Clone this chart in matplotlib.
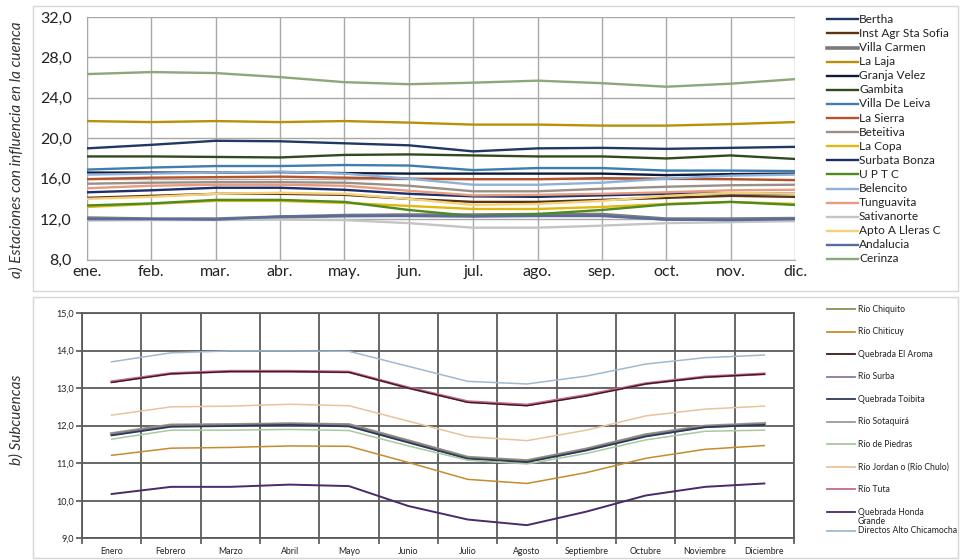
import matplotlib
matplotlib.use("Agg")
import matplotlib.pyplot as plt
from matplotlib.lines import Line2D
from matplotlib.patches import Rectangle

# ---------------- data ----------------
months_top = ["ene.", "feb.", "mar.", "abr.", "may.", "jun.", "jul.", "ago.", "sep.", "oct.", "nov.", "dic."]
months_bot = ["Enero", "Febrero", "Marzo", "Abril", "Mayo", "Junio", "Julio", "Agosto",
              "Septiembre", "Octubre", "Noviembre", "Diciembre"]

bertha = [19.0, 19.35, 19.75, 19.7, 19.5, 19.3, 18.7, 19.0, 19.05, 18.95, 19.05, 19.15]
inst_agr = [14.1, 14.3, 14.5, 14.5, 14.4, 14.0, 13.7, 13.7, 13.9, 14.1, 14.3, 14.2]
villa_carmen = [12.1, 12.0, 12.0, 12.2, 12.35, 12.4, 12.4, 12.45, 12.45, 12.0, 12.0, 12.05]
la_laja = [21.7, 21.6, 21.7, 21.6, 21.7, 21.55, 21.35, 21.35, 21.25, 21.25, 21.4, 21.6]
granja_velez = [16.6, 16.6, 16.6, 16.65, 16.55, 16.5, 16.5, 16.5, 16.5, 16.35, 16.45, 16.5]
gambita = [18.2, 18.2, 18.15, 18.1, 18.35, 18.4, 18.3, 18.2, 18.2, 18.0, 18.3, 17.95]
villa_leiva = [16.9, 17.1, 17.25, 17.25, 17.35, 17.3, 16.85, 17.05, 17.05, 16.8, 16.8, 16.75]
la_sierra = [15.95, 16.1, 16.15, 16.2, 16.1, 16.0, 15.95, 15.95, 16.05, 16.0, 15.95, 15.85]
beteitiva = [15.5, 15.6, 15.65, 15.65, 15.6, 15.3, 14.75, 14.75, 15.0, 15.2, 15.35, 15.4]
la_copa = [13.2, 13.5, 13.8, 13.8, 13.6, 13.3, 13.0, 13.0, 13.2, 13.5, 13.7, 13.5]
surbata = [14.65, 14.85, 15.1, 15.1, 14.9, 14.5, 14.25, 14.2, 14.35, 14.5, 14.55, 14.5]
uptc = [13.35, 13.55, 13.9, 13.9, 13.7, 12.9, 12.3, 12.5, 12.9, 13.45, 13.7, 13.4]
belencito = [16.4, 16.5, 16.6, 16.7, 16.5, 16.0, 15.4, 15.4, 15.6, 16.0, 16.3, 16.4]
tunguavita = [15.05, 15.3, 15.4, 15.4, 15.3, 14.8, 14.35, 14.4, 14.5, 14.65, 14.85, 14.9]
sativanorte = [11.85, 11.9, 11.9, 11.95, 11.9, 11.6, 11.15, 11.15, 11.35, 11.6, 11.7, 11.8]
apto = [14.0, 14.2, 14.5, 14.6, 14.5, 14.0, 13.4, 13.5, 13.8, 14.3, 14.6, 14.5]
andalucia = [12.0, 12.0, 11.95, 12.25, 12.3, 12.3, 12.25, 12.3, 12.3, 11.95, 11.9, 12.0]
cerinza = [26.35, 26.55, 26.45, 26.05, 25.55, 25.35, 25.5, 25.7, 25.45, 25.1, 25.4, 25.85]

top_names = ["Bertha", "Inst Agr Sta Sofia", "Villa Carmen", "La Laja", "Granja Velez", "Gambita",
             "Villa De Leiva", "La Sierra", "Beteitiva", "La Copa", "Surbata Bonza", "U P T C",
             "Belencito", "Tunguavita", "Sativanorte", "Apto A Lleras C", "Andalucia", "Cerinza"]
top_series = [bertha, inst_agr, villa_carmen, la_laja, granja_velez, gambita, villa_leiva, la_sierra,
              beteitiva, la_copa, surbata, uptc, belencito, tunguavita, sativanorte, apto, andalucia, cerinza]
top_colors = ["#1f3864", "#5c3310", "#7a7a7a", "#b8900a", "#0d1a3a", "#2f4a1e", "#3f7cb0", "#b5532a",
              "#9a8f86", "#e0b810", "#1c2f6b", "#4e8a1e", "#8fb0d8", "#e69c80", "#c4c4c4", "#f5d27a",
              "#5a6a9a", "#8aa878"]

chiquito = [11.79, 12.02, 12.03, 12.06, 12.03, 11.60, 11.16, 11.07, 11.38, 11.76, 11.99, 12.05]
chiticuy = [11.21, 11.40, 11.42, 11.46, 11.45, 11.02, 10.57, 10.46, 10.75, 11.13, 11.37, 11.47]
aroma = [13.15, 13.38, 13.44, 13.44, 13.42, 13.00, 12.62, 12.53, 12.79, 13.11, 13.29, 13.37]
surba = [11.77, 12.00, 12.01, 12.05, 12.01, 11.58, 11.14, 11.05, 11.36, 11.74, 11.98, 12.04]
toibita = [11.74, 11.97, 11.99, 12.02, 11.98, 11.55, 11.12, 11.03, 11.34, 11.71, 11.96, 12.02]
sotaquira = [11.78, 12.01, 12.02, 12.04, 12.02, 11.59, 11.15, 11.06, 11.37, 11.75, 11.98, 12.05]
piedras = [11.64, 11.88, 11.88, 11.90, 11.87, 11.46, 11.08, 10.98, 11.26, 11.62, 11.85, 11.88]
jordan = [12.28, 12.50, 12.52, 12.57, 12.53, 12.12, 11.71, 11.60, 11.88, 12.26, 12.44, 12.52]
tuta = [13.17, 13.39, 13.45, 13.45, 13.43, 13.01, 12.64, 12.55, 12.81, 13.12, 13.30, 13.38]
honda = [10.18, 10.37, 10.37, 10.43, 10.39, 9.86, 9.50, 9.35, 9.71, 10.14, 10.37, 10.46]
directos = [13.70, 13.94, 13.99, 13.99, 13.98, 13.58, 13.18, 13.11, 13.32, 13.64, 13.81, 13.88]

bot_names = ["Río Chiquito", "Río Chiticuy", "Quebrada El Aroma", "Río Surba", "Quebrada Toibita",
             "Río Sotaquirá", "Río de Piedras", "Río Jordan o (Río Chulo)", "Río Tuta",
             "Quebrada Honda\nGrande", "Directos Alto Chicamocha"]
bot_series = [chiquito, chiticuy, aroma, surba, toibita, sotaquira, piedras, jordan, tuta, honda, directos]
bot_colors = ["#8c8c5a", "#c88a2e", "#3a1a1a", "#8a7a9a", "#2c3a5a", "#9a9a9a", "#a8c8a0",
              "#e8c49a", "#c86890", "#4a2a6a", "#a0b8d0"]

# ---------------- figure ----------------
W, H = 961, 560
fig = plt.figure(figsize=(W / 100, H / 100), dpi=100)
FONT = ["Lato", "DejaVu Sans"]


def fx(px):
    return px / W


def fy(py):
    return 1 - py / H


# panel frames
fig.add_artist(Rectangle((fx(33), fy(291)), fx(958) - fx(33), fy(6) - fy(291), transform=fig.transFigure,
                         fill=False, edgecolor="#d6d6d6", lw=1.0))
fig.add_artist(Rectangle((fx(33), fy(558)), fx(958) - fx(33), fy(297) - fy(558), transform=fig.transFigure,
                         fill=False, edgecolor="#d6d6d6", lw=1.0))

# ---------------- top axes ----------------
ax1 = fig.add_axes([fx(87), fy(259.5), fx(795) - fx(87), fy(17) - fy(259.5)])
x = list(range(12))
for i in range(len(top_series)):
    lw = 2.6 if top_names[i] == "Villa Carmen" else 1.7
    ax1.plot(x, top_series[i], color=top_colors[i], lw=lw, solid_joinstyle="round", zorder=3)
ax1.set_xlim(0, 11)
ax1.set_ylim(8, 32)
ax1.set_yticks([8, 12, 16, 20, 24, 28, 32])
ax1.set_yticklabels([f"{v:.1f}".replace(".", ",") for v in [8, 12, 16, 20, 24, 28, 32]],
                    fontsize=11.5, family=FONT, color="#222222")
ax1.set_xticks(x)
ax1.set_xticklabels(months_top, fontsize=11.5, family=FONT, color="#222222")
ax1.grid(True, color="#a8a8a8", lw=1.0)
ax1.set_axisbelow(True)
for s in ["top", "right"]:
    ax1.spines[s].set_visible(False)
for s in ["left", "bottom"]:
    ax1.spines[s].set_color("#a8a8a8")
ax1.tick_params(axis="y", length=0, pad=11)
ax1.tick_params(axis="x", length=0, pad=4)

fig.text(fx(17), fy(150), "a) Estaciones con influencia en la cuenca", rotation=90, va="center",
         ha="center", fontsize=11, style="italic", family=FONT, color="#333333")

# top legend (manual)
for i, name in enumerate(top_names):
    yy = fy(19.3 + i * 14.1)
    lw = 2.6 if name == "Villa Carmen" else 1.7
    fig.add_artist(Line2D([fx(827), fx(858)], [yy, yy], color=top_colors[i], lw=lw,
                          transform=fig.transFigure))
    fig.text(fx(859), yy, name, va="center", ha="left", fontsize=8.6, family=FONT, color="#222222")

# ---------------- bottom axes ----------------
ax2 = fig.add_axes([fx(82), fy(538.3), fx(794) - fx(82), fy(313) - fy(538.3)])
lw_bot = {"Río Sotaquirá": 2.6, "Quebrada Toibita": 1.3, "Río Tuta": 2.0, "Quebrada El Aroma": 1.0,
          "Quebrada Honda\nGrande": 1.4}
for i in [5, 0, 3, 4, 6, 1, 7, 8, 2, 9, 10]:
    ax2.plot(x, bot_series[i], color=bot_colors[i], lw=lw_bot.get(bot_names[i], 1.1), zorder=3)
ax2.set_xlim(-0.5, 11.5)
ax2.set_ylim(9, 15)
yt = [9, 10, 11, 12, 13, 14, 15]
ax2.set_yticks(yt)
ax2.set_yticklabels([f"{v:.1f}".replace(".", ",") for v in yt], fontsize=6.5, family=FONT,
                    color="#222222")
ax2.set_xticks(x)
ax2.set_xticklabels(months_bot, fontsize=6.3, family=FONT, color="#222222")
ax2.set_xticks([v + 0.5 for v in range(-1, 12)], minor=True)
ax2.tick_params(axis="x", which="major", length=0, pad=6)
ax2.tick_params(axis="x", which="minor", length=4, color="#555555", width=1.2)
ax2.tick_params(axis="y", length=4, color="#555555", width=1.2, pad=2)
ax2.grid(True, axis="y", color="#5a5a5a", lw=1.3)
ax2.grid(True, axis="x", which="minor", color="#5a5a5a", lw=1.3)
ax2.set_axisbelow(True)
for s in ax2.spines.values():
    s.set_color("#5a5a5a")
    s.set_linewidth(1.3)

fig.text(fx(17), fy(420), "b) Subcuencas", rotation=90, va="center", ha="center",
         fontsize=11, style="italic", family=FONT, color="#333333")

# bottom legend (manual)
leg_y = [309, 331.7, 354.3, 376.7, 399.3, 421.7, 444.3, 467, 489.3, 512.3, 530.5]
for i, name in enumerate(bot_names):
    yy = fy(leg_y[i])
    fig.add_artist(Line2D([fx(827), fx(855)], [yy, yy], color=bot_colors[i],
                          lw=1.3, transform=fig.transFigure))
    if "\n" in name:
        fig.text(fx(858), fy(leg_y[i] - 4.5), name, va="top", ha="left", fontsize=6.2, family=FONT,
                 color="#222222", linespacing=1.0)
    else:
        fig.text(fx(858), yy, name, va="center", ha="left", fontsize=6.2, family=FONT, color="#222222")

fig.savefig("out.png", dpi=100)
